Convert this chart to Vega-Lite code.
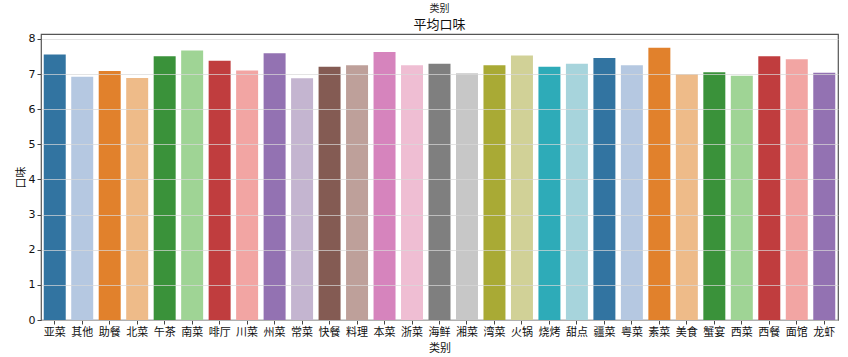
{
  "$schema": "https://vega.github.io/schema/vega-lite/v6.json",
  "autosize": {"type": "none"},
  "width": 797,
  "height": 286,
  "padding": {"left": 41, "top": 34, "right": 10, "bottom": 37},
  "background": "white",
  "title": {
    "text": "类别",
    "subtitle": "平均口味",
    "anchor": "middle",
    "font": "Noto Sans CJK SC",
    "subtitleFont": "Noto Sans CJK SC",
    "fontSize": 10,
    "fontWeight": "normal",
    "subtitleFontSize": 13,
    "color": "#222",
    "subtitleColor": "#111",
    "subtitlePadding": 5,
    "offset": 1
  },
  "data": {
    "values": [
      {"类别": "亚菜", "口味": 7.56},
      {"类别": "其他", "口味": 6.92},
      {"类别": "助餐", "口味": 7.09},
      {"类别": "北菜", "口味": 6.89},
      {"类别": "午茶", "口味": 7.51},
      {"类别": "南菜", "口味": 7.67},
      {"类别": "啡厅", "口味": 7.38},
      {"类别": "川菜", "口味": 7.10},
      {"类别": "州菜", "口味": 7.59},
      {"类别": "常菜", "口味": 6.88},
      {"类别": "快餐", "口味": 7.21},
      {"类别": "料理", "口味": 7.25},
      {"类别": "本菜", "口味": 7.63},
      {"类别": "浙菜", "口味": 7.25},
      {"类别": "海鲜", "口味": 7.29},
      {"类别": "湘菜", "口味": 7.02},
      {"类别": "湾菜", "口味": 7.25},
      {"类别": "火锅", "口味": 7.53},
      {"类别": "烧烤", "口味": 7.21},
      {"类别": "甜点", "口味": 7.29},
      {"类别": "疆菜", "口味": 7.46},
      {"类别": "粤菜", "口味": 7.25},
      {"类别": "素菜", "口味": 7.75},
      {"类别": "美食", "口味": 7.00},
      {"类别": "蟹宴", "口味": 7.05},
      {"类别": "西菜", "口味": 6.95},
      {"类别": "西餐", "口味": 7.51},
      {"类别": "面馆", "口味": 7.42},
      {"类别": "龙虾", "口味": 7.04}
    ]
  },
  "mark": {"type": "bar"},
  "encoding": {
    "x": {
      "field": "类别",
      "type": "nominal",
      "sort": null,
      "scale": {"paddingInner": 0.2, "paddingOuter": 0.1},
      "axis": {
        "title": "类别",
        "labelAngle": 0,
        "labelFont": "Noto Sans CJK SC",
        "labelFontSize": 11,
        "labelColor": "#111",
        "titleFont": "Noto Sans CJK SC",
        "titleFontSize": 11,
        "titleFontWeight": "normal",
        "titleColor": "#111",
        "titlePadding": 5,
        "tickSize": 4,
        "tickColor": "#444",
        "domain": false,
        "labelPadding": 2
      }
    },
    "y": {
      "field": "口味",
      "type": "quantitative",
      "scale": {"domain": [0, 8.14], "nice": false},
      "axis": {
        "title": "口味",
        "values": [0, 1, 2, 3, 4, 5, 6, 7, 8],
        "labelFont": "DejaVu Sans",
        "labelFontSize": 11,
        "labelColor": "#111",
        "titleFont": "Noto Sans CJK SC",
        "titleFontSize": 11,
        "titleFontWeight": "normal",
        "titleColor": "#111",
        "titlePadding": 2,
        "tickSize": 4,
        "tickColor": "#444",
        "domain": false,
        "grid": true,
        "gridColor": "#d8d8d8",
        "gridOpacity": 0.7,
        "gridWidth": 1.2,
        "zindex": 1,
        "labelPadding": 2
      }
    },
    "color": {
      "field": "类别",
      "type": "nominal",
      "sort": null,
      "legend": null,
      "scale": {
        "domain": ["亚菜","其他","助餐","北菜","午茶","南菜","啡厅","川菜","州菜","常菜","快餐","料理","本菜","浙菜","海鲜","湘菜","湾菜","火锅","烧烤","甜点","疆菜","粤菜","素菜","美食","蟹宴","西菜","西餐","面馆","龙虾"],
        "range": ["#3274a1","#b5c8e1","#e1812c","#eebb89","#3a923a","#9fd495","#c03d3e","#f2a5a3","#9372b2","#c4b5d0","#845b53","#bea09a","#d684bd","#efbed3","#7f7f7f","#c7c7c7","#a9aa35","#d1d197","#2eabb8","#a7d4dc","#3274a1","#b5c8e1","#e1812c","#eebb89","#3a923a","#9fd495","#c03d3e","#f2a5a3","#9372b2"]
      }
    }
  },
  "config": {
    "view": {"stroke": "#555", "strokeWidth": 1.2},
    "axis": {"gridDash": []}
  }
}
